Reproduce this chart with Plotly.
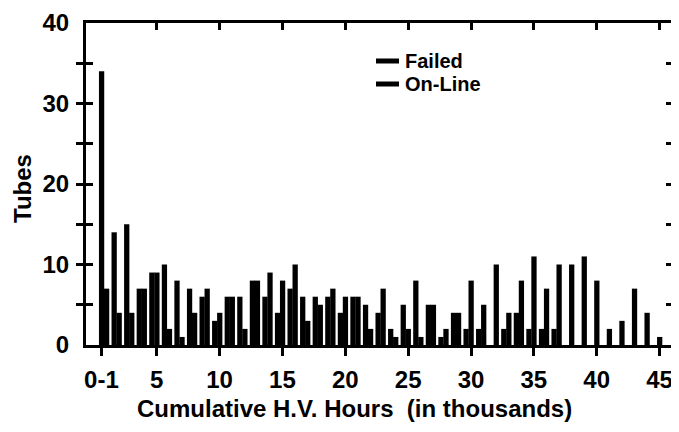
import plotly.graph_objects as go

# Bins of cumulative H.V. hours (thousands), 1 = "0-1"
bins = list(range(1, 46))
failed = [34, 14, 15, 7, 9, 10, 8, 7, 6, 3,
          6, 6, 8, 6, 4, 7, 6, 6, 6, 4,
          6, 5, 4, 2, 5, 8, 5, 1, 4, 2,
          2, 0, 2, 4, 2, 2, 2, 0, 0, 0,
          0, 0, 0, 0, 0]
online = [7, 4, 4, 7, 9, 2, 1, 4, 7, 4,
          6, 2, 8, 9, 8, 10, 3, 5, 7, 6,
          6, 2, 7, 1, 2, 1, 5, 2, 4, 8,
          5, 10, 4, 8, 11, 7, 10, 10, 11, 8,
          2, 3, 7, 4, 1]
series_names = ["Failed", "On-Line"]
x_tickvals = [0.6, 5, 10, 15, 20, 25, 30, 35, 40, 45]
x_ticktext = ["0-1", "5", "10", "15", "20", "25", "30", "35", "40", "45"]
y_tickvals = [0, 5, 10, 15, 20, 25, 30, 35, 40]
y_ticktext = ["0", "", "10", "", "20", "", "30", "", "40"]
x_title = "Cumulative H.V. Hours  (in thousands)"
y_title = "Tubes"

FONT = "Liberation Sans, Arial, sans-serif"
BOLD = dict(family=FONT, size=24, color="black", weight="bold")
XR = [-0.63, 46.07]

# window-pixel helpers (page body has an 8px margin)
PL, PB, PW, PH = 86, 345, 587, 322
def px(wx):
    return (wx - PL) / PW
def py(wy):
    return (PB - wy) / PH

fig = go.Figure()
fig.add_trace(go.Bar(x=bins, y=failed, width=0.42, offset=-0.6,
                     marker=dict(color="black", line=dict(width=0)),
                     showlegend=False, name=series_names[0]))
fig.add_trace(go.Bar(x=bins, y=online, width=0.42, offset=-0.2,
                     marker=dict(color="black", line=dict(width=0)),
                     showlegend=False, name=series_names[1]))
# top axis with inward ticks
fig.add_trace(go.Scatter(x=[None], y=[None], xaxis="x2", showlegend=False))

# legend keys: thick line + label
for i, nm in enumerate(series_names):
    yy = 61 + 23 * i
    fig.add_shape(type="line", xref="paper", yref="paper",
                  x0=px(376), x1=px(399), y0=py(yy), y1=py(yy),
                  line=dict(color="black", width=5))
    fig.add_annotation(text=nm, xref="paper", yref="paper",
                       x=px(403), y=py(yy),
                       xanchor="left", yanchor="middle", showarrow=False,
                       font=dict(family=FONT, size=20, color="black", weight="bold"))

# axis titles
fig.add_annotation(text=x_title, xref="paper", yref="paper",
                   x=px(354), y=py(408), xanchor="center", yanchor="middle",
                   showarrow=False, font=BOLD)
fig.add_annotation(text=y_title, xref="paper", yref="paper",
                   x=px(22), y=py(189), xanchor="center", yanchor="middle",
                   textangle=-90, showarrow=False, font=BOLD)

fig.update_layout(
    width=671, height=424,
    margin=dict(l=78, r=6, t=15, b=87),
    paper_bgcolor="white", plot_bgcolor="white",
    font=dict(family=FONT, size=24, color="black"),
    barmode="overlay",
    showlegend=False,
    xaxis=dict(range=XR, tickvals=x_tickvals, ticktext=x_ticktext,
               ticks="outside", ticklen=8, tickwidth=3, tickcolor="black",
               showline=True, linewidth=3, linecolor="black", mirror=True,
               showgrid=False, zeroline=False, automargin=False,
               ticklabelstandoff=3, tickfont=BOLD),
    xaxis2=dict(range=XR, overlaying="x", side="top", anchor="y",
                tickvals=[5, 10, 15, 20, 25, 30, 35, 40, 45],
                ticks="inside", ticklen=7, tickwidth=3, tickcolor="black",
                showticklabels=False, showgrid=False, zeroline=False,
                showline=False, automargin=False),
    yaxis=dict(range=[0, 40], tickvals=y_tickvals, ticktext=y_ticktext,
               ticks="inside", ticklen=7, tickwidth=3, tickcolor="black",
               showline=True, linewidth=3, linecolor="black", mirror="allticks",
               showgrid=False, zeroline=False, ticklabelstandoff=9,
               automargin=False, tickfont=BOLD),
)

fig.write_html("out.html")
